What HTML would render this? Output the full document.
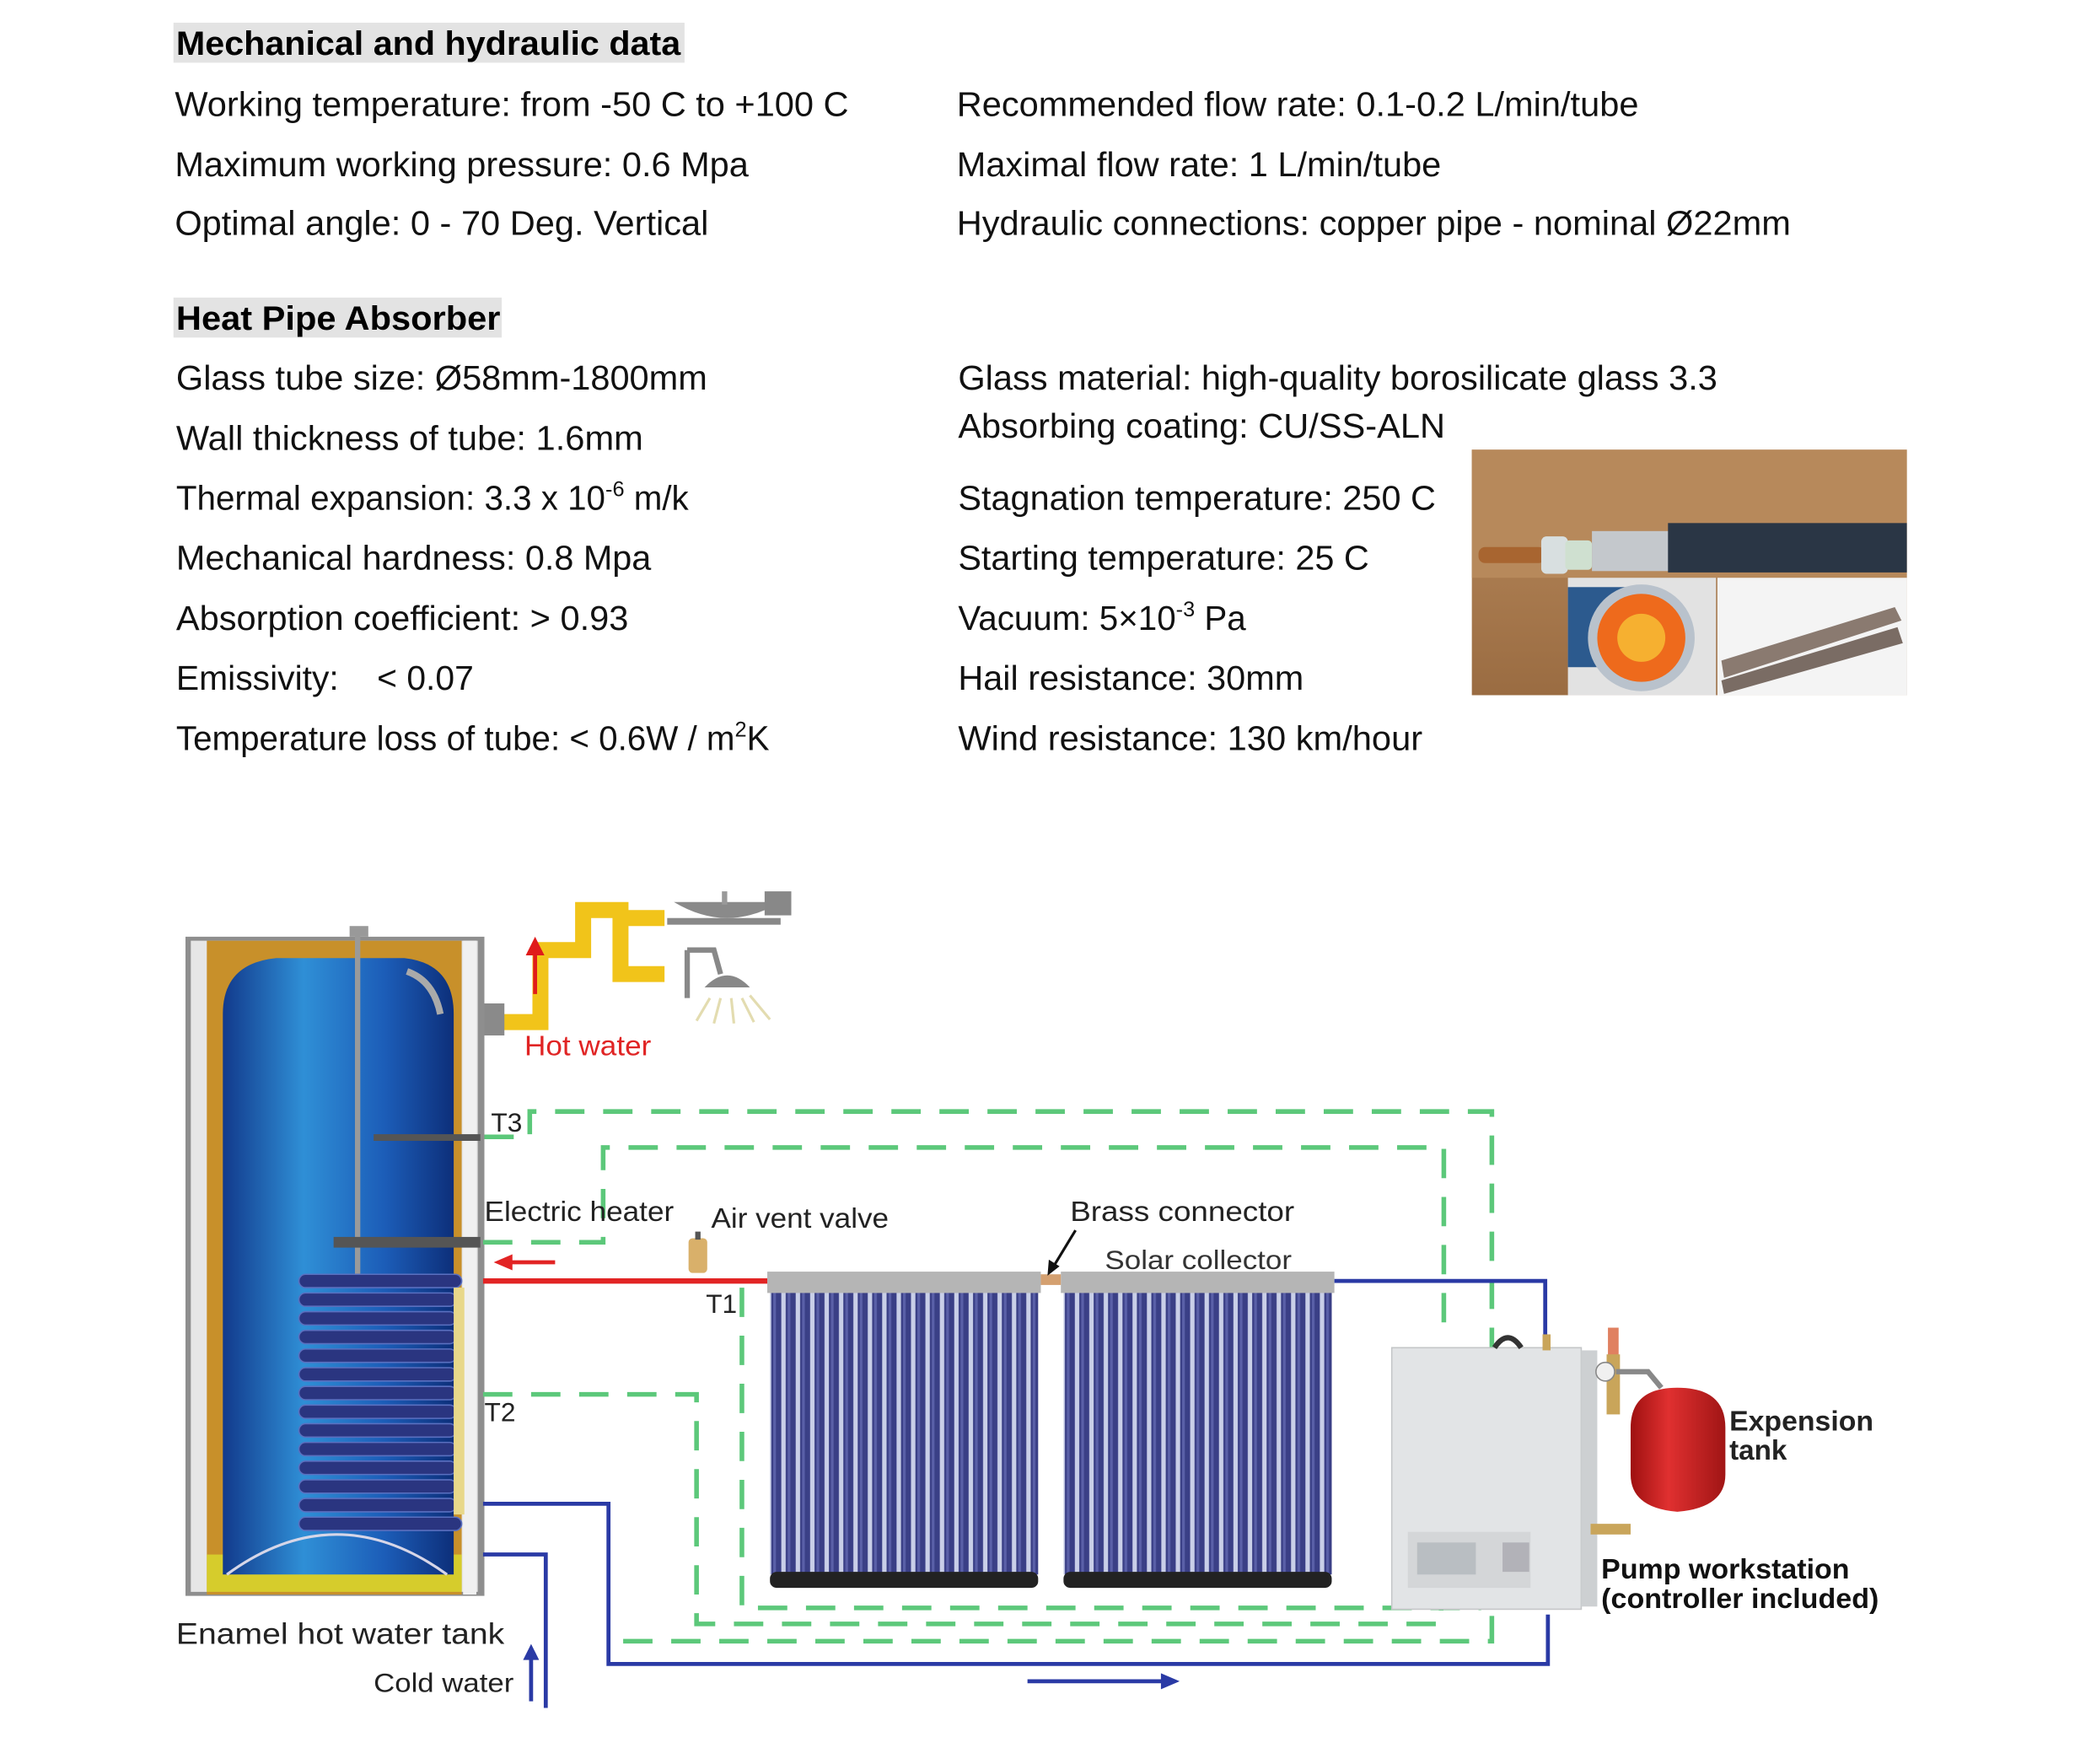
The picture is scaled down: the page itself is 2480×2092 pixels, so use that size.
<!DOCTYPE html>
<html><head><meta charset="utf-8"><style>
html,body{margin:0;padding:0;background:#fff}
svg{display:block}
text{font-family:"Liberation Sans",Arial,sans-serif}
</style></head><body>
<svg width="2480" height="2092" viewBox="0 0 1567 1322" preserveAspectRatio="none" xmlns="http://www.w3.org/2000/svg">
<defs>
<pattern id="tubes" x="577" y="0" width="10.8" height="10" patternUnits="userSpaceOnUse">
<rect x="0" y="0" width="10.8" height="10" fill="#c9cfe8"/>
<rect x="1" y="0" width="7.5" height="10" fill="#3a3f86"/>
<rect x="2.5" y="0" width="2" height="10" fill="#5a60a8"/>
</pattern>
<pattern id="tubes2" x="797" y="0" width="10.8" height="10" patternUnits="userSpaceOnUse">
<rect x="0" y="0" width="10.8" height="10" fill="#c9cfe8"/>
<rect x="1" y="0" width="7.5" height="10" fill="#3a3f86"/>
<rect x="2.5" y="0" width="2" height="10" fill="#5a60a8"/>
</pattern>
<linearGradient id="tankg" x1="0" x2="1">
<stop offset="0" stop-color="#123a8c"/><stop offset="0.35" stop-color="#2f8fd6"/><stop offset="0.7" stop-color="#1c5db8"/><stop offset="1" stop-color="#0d2f7a"/>
</linearGradient>
<linearGradient id="wood" x1="0" x2="0" y1="0" y2="1">
<stop offset="0" stop-color="#b98a5c"/><stop offset="1" stop-color="#9a6c42"/>
</linearGradient>
<linearGradient id="redt" x1="0" x2="1"><stop offset="0" stop-color="#9e1010"/><stop offset="0.4" stop-color="#e03030"/><stop offset="1" stop-color="#a01515"/></linearGradient>
</defs>

<!-- Headings -->
<rect x="130" y="17" width="383" height="30" fill="#e3e3e3"/>
<text x="132" y="41" font-size="25" font-weight="bold" textLength="378" lengthAdjust="spacingAndGlyphs">Mechanical and hydraulic data</text>
<g font-size="25.5" fill="#111">
<text x="131" y="87" textLength="505" lengthAdjust="spacingAndGlyphs">Working temperature: from -50 C to +100 C</text>
<text x="131" y="132" textLength="430" lengthAdjust="spacingAndGlyphs">Maximum working pressure: 0.6 Mpa</text>
<text x="131" y="176" textLength="400" lengthAdjust="spacingAndGlyphs">Optimal angle: 0 - 70 Deg. Vertical</text>
<text x="717" y="87" textLength="511" lengthAdjust="spacingAndGlyphs">Recommended flow rate: 0.1-0.2 L/min/tube</text>
<text x="717" y="132" textLength="363" lengthAdjust="spacingAndGlyphs">Maximal flow rate: 1 L/min/tube</text>
<text x="717" y="176" textLength="625" lengthAdjust="spacingAndGlyphs">Hydraulic connections: copper pipe - nominal Ø22mm</text>
</g>
<rect x="130" y="223" width="246" height="30" fill="#e3e3e3"/>
<text x="132" y="247" font-size="25" font-weight="bold" textLength="243" lengthAdjust="spacingAndGlyphs">Heat Pipe Absorber</text>
<g font-size="25.5" fill="#111">
<text x="132" y="292" textLength="398" lengthAdjust="spacingAndGlyphs">Glass tube size: Ø58mm-1800mm</text>
<text x="132" y="337" textLength="350" lengthAdjust="spacingAndGlyphs">Wall thickness of tube: 1.6mm</text>
<text x="132" y="382">Thermal expansion: 3.3 x 10<tspan font-size="16" dy="-10">-6</tspan><tspan dy="10"> m/k</tspan></text>
<text x="132" y="427" textLength="356" lengthAdjust="spacingAndGlyphs">Mechanical hardness: 0.8 Mpa</text>
<text x="132" y="472" textLength="339" lengthAdjust="spacingAndGlyphs">Absorption coefficient: &gt; 0.93</text>
<text x="132" y="517" xml:space="preserve" textLength="223" lengthAdjust="spacingAndGlyphs">Emissivity:    &lt; 0.07</text>
<text x="132" y="562">Temperature loss of tube: &lt; 0.6W / m<tspan font-size="16" dy="-10">2</tspan><tspan dy="10">K</tspan></text>
<text x="718" y="292" textLength="569" lengthAdjust="spacingAndGlyphs">Glass material: high-quality borosilicate glass 3.3</text>
<text x="718" y="328" textLength="365" lengthAdjust="spacingAndGlyphs">Absorbing coating: CU/SS-ALN</text>
<text x="718" y="382" textLength="358" lengthAdjust="spacingAndGlyphs">Stagnation temperature: 250 C</text>
<text x="718" y="427" textLength="308" lengthAdjust="spacingAndGlyphs">Starting temperature: 25 C</text>
<text x="718" y="472">Vacuum: 5×10<tspan font-size="16" dy="-10">-3</tspan><tspan dy="10"> Pa</tspan></text>
<text x="718" y="517" textLength="259" lengthAdjust="spacingAndGlyphs">Hail resistance: 30mm</text>
<text x="718" y="562" textLength="348" lengthAdjust="spacingAndGlyphs">Wind resistance: 130 km/hour</text>
</g>

<!-- photo -->
<rect x="1103" y="337" width="326" height="184" fill="url(#wood)"/>
<rect x="1103" y="337" width="326" height="96" fill="#b7895b"/>
<rect x="1108" y="410" width="50" height="12" rx="5" fill="#a86530"/>
<rect x="1155" y="402" width="20" height="28" rx="4" fill="#d8dfe0"/>
<rect x="1173" y="405" width="20" height="22" rx="3" fill="#cfe0d0"/>
<rect x="1193" y="398" width="140" height="30" fill="#c4c8cc"/>
<rect x="1250" y="392" width="179" height="37" fill="#2a3645"/>
<rect x="1175" y="433" width="111" height="88" fill="#e2e2e2"/>
<rect x="1175" y="440" width="60" height="60" fill="#2c5a8e"/>
<circle cx="1230" cy="478" r="40" fill="#b9c2cc"/>
<circle cx="1230" cy="478" r="33" fill="#ee6a1c"/>
<circle cx="1230" cy="478" r="18" fill="#f6b030"/>
<rect x="1287" y="433" width="142" height="88" fill="#f4f4f4"/>
<path d="M1290 495 L1420 455 L1425 465 L1292 508 Z" fill="#8a7a70"/>
<path d="M1290 510 L1422 470 L1426 482 L1292 520 Z" fill="#7a6c64"/>

<!-- ============ DIAGRAM ============ -->
<rect x="500" y="688" width="85" height="5" fill="#888"/>
<path d="M505 676 Q545 700 585 676 Z" fill="#8a8a8a"/>
<rect x="573" y="668" width="20" height="18" fill="#888"/>
<rect x="541" y="668" width="4" height="10" fill="#999"/>
<path d="M515 712 L515 748 M515 712 L535 712 L540 730" stroke="#888" stroke-width="4" fill="none"/>
<path d="M528 740 Q545 722 562 740 Z" fill="#888"/>
<g stroke="#e3dcb0" stroke-width="2"><line x1="532" y1="748" x2="522" y2="765"/><line x1="540" y1="748" x2="535" y2="767"/><line x1="548" y1="748" x2="550" y2="767"/><line x1="556" y1="748" x2="565" y2="766"/><line x1="562" y1="746" x2="577" y2="764"/></g>
<path d="M372 766 L405 766 L405 712 L437 712 L437 682 L465 682 L465 730 L498 730 M465 688 L498 688" stroke="#f1c41a" stroke-width="12" fill="none"/>
<rect x="360" y="752" width="18" height="24" fill="#8a8a8a"/>
<line x1="401" y1="745" x2="401" y2="712" stroke="#e01b1b" stroke-width="3"/>
<path d="M394 716 L401 702 L408 716 Z" fill="#e01b1b"/>
<text x="393" y="791" font-size="21" fill="#e02424" textLength="95" lengthAdjust="spacingAndGlyphs">Hot water</text>

<!-- tank -->
<rect x="139" y="702" width="224" height="494" fill="#8e8e8e"/>
<rect x="143" y="705" width="215" height="488" fill="#e6e6e6"/>
<rect x="155" y="705" width="191" height="490" fill="#c8902a"/>
<rect x="155" y="1165" width="191" height="28" fill="#d6cc2c"/>
<path d="M167 1180 L167 760 Q167 722 207 718 L303 718 Q340 722 340 760 L340 1180 Z" fill="url(#tankg)"/>
<path d="M170 1180 Q252 1120 335 1180" stroke="#d6d6e8" stroke-width="2" fill="none"/>
<rect x="347" y="705" width="10" height="490" fill="#f0f0f0"/>
<line x1="268" y1="700" x2="268" y2="962" stroke="#9a9a9a" stroke-width="4"/>
<rect x="262" y="694" width="14" height="8" fill="#999"/>
<path d="M305 728 Q325 735 330 760" stroke="#aaa" stroke-width="5" fill="none"/>
<rect x="280" y="850" width="80" height="5" fill="#555"/>
<rect x="250" y="927" width="110" height="8" fill="#555"/>
<g fill="#2a3580" stroke="#5a70c0" stroke-width="1">
<rect x="224" y="955" width="122" height="10" rx="5"/><rect x="224" y="969" width="118" height="10" rx="5"/><rect x="224" y="983" width="118" height="10" rx="5"/><rect x="224" y="997" width="118" height="10" rx="5"/><rect x="224" y="1011" width="118" height="10" rx="5"/><rect x="224" y="1025" width="118" height="10" rx="5"/><rect x="224" y="1039" width="118" height="10" rx="5"/><rect x="224" y="1053" width="118" height="10" rx="5"/><rect x="224" y="1067" width="118" height="10" rx="5"/><rect x="224" y="1081" width="118" height="10" rx="5"/><rect x="224" y="1095" width="118" height="10" rx="5"/><rect x="224" y="1109" width="118" height="10" rx="5"/><rect x="224" y="1123" width="118" height="10" rx="5"/><rect x="224" y="1137" width="122" height="10" rx="5"/>
</g>
<rect x="340" y="965" width="8" height="170" fill="#e8d88a"/>
<text x="132" y="1232" font-size="22" fill="#222" textLength="246" lengthAdjust="spacingAndGlyphs">Enamel hot water tank</text>

<!-- green dashed -->
<g stroke="#5cc87a" stroke-width="3.5" fill="none" stroke-dasharray="22,14">
<path d="M363 852 L397 852 L397 833 L1118 833 L1118 1230 L458 1230"/>
<path d="M362 931 L452 931 L452 860 L1082 860 L1082 1005"/>
<path d="M362 1045 L522 1045 L522 1217 L1080 1217 L1080 1205"/>
<path d="M556 965 L556 1205 L1110 1205"/>
</g>
<text x="368" y="848" font-size="20" fill="#222">T3</text>
<text x="363" y="915" font-size="21" fill="#222" textLength="142" lengthAdjust="spacingAndGlyphs">Electric heater</text>
<text x="533" y="920" font-size="21" fill="#222" textLength="133" lengthAdjust="spacingAndGlyphs">Air vent valve</text>
<text x="363" y="1065" font-size="20" fill="#222">T2</text>
<text x="529" y="984" font-size="20" fill="#222">T1</text>

<!-- red pipe -->
<line x1="362" y1="960" x2="575" y2="960" stroke="#e22424" stroke-width="4"/>
<line x1="382" y1="946" x2="416" y2="946" stroke="#e22424" stroke-width="3"/>
<path d="M384 940 L370 946 L384 952 Z" fill="#e22424"/>
<rect x="516" y="928" width="14" height="26" rx="3" fill="#d9b06a"/>
<rect x="521" y="923" width="4" height="6" fill="#555"/>

<!-- collectors -->
<rect x="577" y="968" width="201" height="212" fill="url(#tubes)"/>
<rect x="797" y="968" width="201" height="212" fill="url(#tubes2)"/>
<rect x="575" y="953" width="205" height="16" fill="#b5b5b5"/>
<rect x="795" y="953" width="205" height="16" fill="#b5b5b5"/>
<rect x="577" y="1178" width="201" height="12" rx="5" fill="#222"/>
<rect x="797" y="1178" width="201" height="12" rx="5" fill="#222"/>
<rect x="780" y="955" width="15" height="8" fill="#d4a070"/>
<text x="802" y="915" font-size="21" fill="#222" textLength="168" lengthAdjust="spacingAndGlyphs">Brass connector</text>
<text x="828" y="951" font-size="20" fill="#333" textLength="140" lengthAdjust="spacingAndGlyphs">Solar collector</text>
<line x1="806" y1="922" x2="789" y2="950" stroke="#111" stroke-width="2"/>
<path d="M785 956 L786 944 L794 949 Z" fill="#111"/>

<!-- blue pipes -->
<g stroke="#2a3aa5" stroke-width="3" fill="none">
<path d="M1000 960 L1158 960 L1158 1003"/>
<path d="M362 1127 L456 1127 L456 1247 L1160 1247 L1160 1210"/>
<path d="M362 1165 L409 1165 L409 1280"/>
<path d="M398 1275 L398 1240"/>
<path d="M770 1260 L875 1260"/>
</g>
<path d="M392 1244 L398 1232 L404 1244 Z" fill="#2a3aa5"/>
<path d="M870 1254 L884 1260 L870 1266 Z" fill="#2a3aa5"/>
<text x="280" y="1268" font-size="20" fill="#222" textLength="105" lengthAdjust="spacingAndGlyphs">Cold water</text>

<!-- pump workstation -->
<rect x="1043" y="1010" width="142" height="196" fill="#e2e4e6" stroke="#c4c6c8"/>
<rect x="1185" y="1012" width="12" height="192" fill="#cdd0d2"/>
<path d="M1120 1010 Q1130 995 1140 1010" stroke="#333" stroke-width="4" fill="none"/>
<rect x="1156" y="1000" width="6" height="12" fill="#c9a55a"/>
<rect x="1055" y="1148" width="92" height="42" fill="#d4d6d8"/>
<rect x="1062" y="1156" width="44" height="24" fill="#b9bec2"/>
<rect x="1126" y="1156" width="20" height="22" fill="#b2b2b8"/>
<rect x="1205" y="995" width="8" height="22" fill="#e08060"/>
<rect x="1204" y="1015" width="10" height="45" fill="#c9a55a"/>
<circle cx="1203" cy="1028" r="7" fill="#f0f0f0" stroke="#888"/>
<path d="M1211 1028 L1235 1028 L1245 1040" stroke="#888" stroke-width="4" fill="none"/>
<rect x="1192" y="1142" width="30" height="8" fill="#c9a55a"/>
<path d="M1222 1070 Q1222 1040 1257 1040 Q1293 1040 1293 1070 L1293 1105 Q1293 1130 1257 1133 Q1222 1130 1222 1105 Z" fill="url(#redt)"/>
<text x="1296" y="1072" font-size="21" font-weight="bold" fill="#222" textLength="108" lengthAdjust="spacingAndGlyphs">Expension</text>
<text x="1296" y="1094" font-size="21" font-weight="bold" fill="#222">tank</text>
<text x="1200" y="1183" font-size="21" fill="#111" font-weight="bold" textLength="186" lengthAdjust="spacingAndGlyphs">Pump workstation</text>
<text x="1200" y="1205" font-size="21" fill="#111" font-weight="bold" textLength="208" lengthAdjust="spacingAndGlyphs">(controller included)</text>
</svg>
</body></html>
